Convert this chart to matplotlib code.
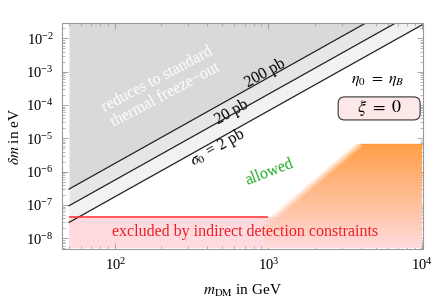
import matplotlib
matplotlib.use("Agg")
import matplotlib.pyplot as plt
import numpy as np
from matplotlib.patches import FancyBboxPatch

plt.rcParams['font.family'] = ['Liberation Serif', 'DejaVu Serif']
plt.rcParams['mathtext.fontset'] = 'stix'

# cross-section contours, straight in log-log: values at m = 50 GeV and 10 TeV
m_ends = [50.0, 1.0e4]
dm_2pb = [3.0e-8, 2.5e-2]
dm_20pb = [9.5e-8, 7.9e-2]
dm_200pb = [3.0e-7, 2.5e-1]
dm_top = [3.2e-2, 3.2e-2]

# indirect detection bound
m_id = [50.0, 1.0e3]
dm_id = [4.5e-8, 4.5e-8]
dm_bottom = 5.0e-9

# orange region (allowed with asymmetry): corners
orange_m = [1.07e3, 4.0e3, 1.0e4]
orange_dm = [4.1e-8, 6.8e-6, 6.8e-6]

pink = np.array([1.0, 0.855, 0.87])
orange = np.array([1.0, 0.62, 0.27])

fig = plt.figure(figsize=(4.35, 3.03), dpi=100)
ax = fig.add_axes([62 / 435, 54 / 303, 361 / 435, 226 / 303])
ax.set_xscale('log')
ax.set_yscale('log')
ax.set_xlim(45, 1.02e4)
ax.set_ylim(10 ** -8.32, 10 ** -1.54)

# gray bands
ax.fill_between(m_ends, dm_200pb, dm_top, color='#d9d9d9', lw=0, zorder=1)
ax.fill_between(m_ends, dm_20pb, dm_200pb, color='#e6e6e6', lw=0, zorder=1)
ax.fill_between(m_ends, dm_2pb, dm_20pb, color='#f2f2f2', lw=0, zorder=1)
for d in (dm_2pb, dm_20pb, dm_200pb):
    ax.plot(m_ends, d, color='#222222', lw=0.9, zorder=3)

# excluded region
ax.fill_between([50.0, 1.0e4], [dm_bottom] * 2, dm_id[:1] * 2, color=pink, lw=0, zorder=1)
ax.plot(m_id, dm_id, color='#ff3030', lw=1.1, zorder=3, solid_capstyle='butt')

# orange gradient with soft diagonal edge
lx0, ly0 = np.log10(orange_m[0]), np.log10(orange_dm[0])
lx1, ly1 = np.log10(orange_m[1]), np.log10(orange_dm[1])
edge_slope = (ly1 - ly0) / (lx1 - lx0)
lxe = np.linspace(2.97, 4.0, 260)
lye = np.linspace(np.log10(dm_bottom), ly1, 220)
LX, LY = np.meshgrid(0.5 * (lxe[1:] + lxe[:-1]), 0.5 * (lye[1:] + lye[:-1]))
t = (LY - lye[0]) / (lye[-1] - lye[0])
rgba = np.zeros(LX.shape + (4,))
rgba[..., :3] = pink * (1 - t[..., None]) + orange * t[..., None]
edge = ly0 + edge_slope * (LX - lx0)
rgba[..., 3] = np.clip((edge - LY) / 0.3 + 0.5, 0, 1)
ax.pcolormesh(10 ** lxe, 10 ** lye, rgba, shading='flat', zorder=2, rasterized=True)
ax.plot(orange_m[1:], orange_dm[1:], color='#ff9a3c', lw=1.0, zorder=3)

# texts
fs = 11.5
ax.text(0.275, 0.715, 'reduces to standard\nthermal freeze\u2212out', transform=ax.transAxes,
        color='white', fontsize=fs, rotation=28, ha='center', va='center',
        linespacing=1.1, zorder=4)
ax.text(0.562, 0.779, '200 pb', transform=ax.transAxes, fontsize=fs, rotation=29,
        ha='center', va='center', zorder=4)
ax.text(0.471, 0.606, '20 pb', transform=ax.transAxes, fontsize=fs, rotation=29,
        ha='center', va='center', zorder=2.5)
ax.text(0.432, 0.451, r'$\sigma_0$ = 2 pb', transform=ax.transAxes, fontsize=fs,
        rotation=29, ha='center', va='center', zorder=4)
ax.text(0.873, 0.748, r'$\eta_0\ =\ \eta_B$', transform=ax.transAxes, fontsize=fs,
        ha='center', va='center', zorder=4)
ax_w, ax_h = 361.0, 226.0
box = FancyBboxPatch((0.765, 0.571), 0.227, 0.102, transform=ax.transAxes,
                     boxstyle='round,pad=0,rounding_size=0.018', mutation_aspect=ax_w / ax_h,
                     fc='#fde8e8', ec='#333333', lw=0.8, zorder=4)
ax.add_patch(box)
ax.text(0.878, 0.622, r'$\xi\ =\ 0$', transform=ax.transAxes, fontsize=13,
        ha='center', va='center', zorder=5)
ax.text(0.576, 0.341, 'allowed', transform=ax.transAxes, color='#22aa22', fontsize=fs,
        rotation=21, ha='center', va='center', zorder=4)
ax.text(0.507, 0.075, 'excluded by indirect detection constraints', transform=ax.transAxes,
        color='#ee1c25', fontsize=fs, ha='center', va='center', zorder=4)

ax.set_xlabel(r'$m_{\rm DM}$ in GeV', fontsize=11, labelpad=7)
ax.set_ylabel(r'$\delta m$ in eV', fontsize=11, labelpad=3)

for s in ax.spines.values():
    s.set_color('#999999')
    s.set_linewidth(0.8)
    s.set_zorder(6)
ax.tick_params(which='both', direction='in', top=True, right=True, color='#999999',
               labelsize=10.5, zorder=6)
ax.tick_params(which='major', length=4, width=0.6, pad=6)
ax.tick_params(which='minor', length=2.2, width=0.5)
ax.set_xticks([1e2, 1e3, 1e4])
ax.set_yticks([10.0 ** k for k in range(-8, -1)])

fig.savefig('out.png', dpi=100)
